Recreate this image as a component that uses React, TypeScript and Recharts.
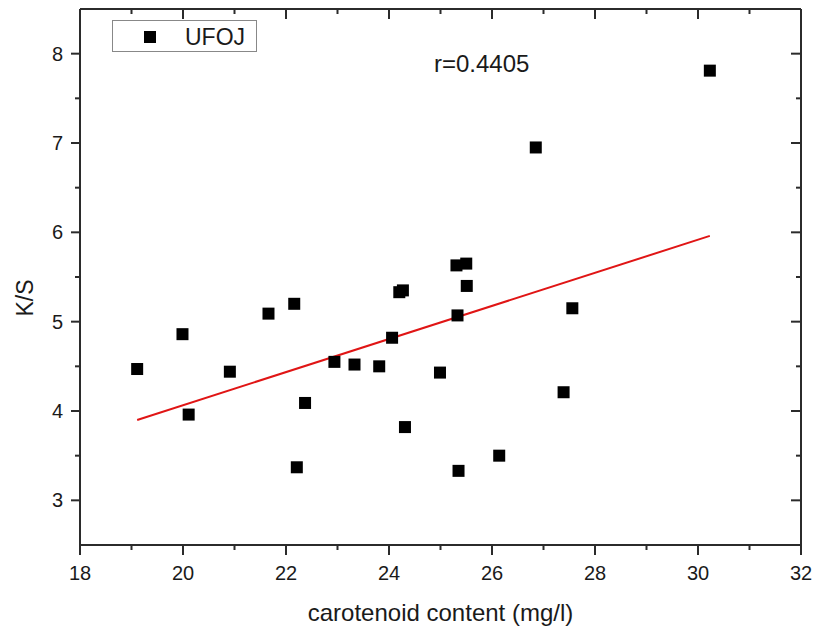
import React from 'react'
import {
  ScatterChart,
  Scatter,
  XAxis,
  YAxis,
  Legend,
  ReferenceDot,
} from 'recharts'

// ── Data ──────────────────────────────────────────────────────────────────────

const carotenoid = [
  19.11, 19.99, 20.11, 20.91, 21.66, 22.16, 22.21, 22.37, 22.94, 23.33, 23.81, 24.06, 24.2,
  24.27, 24.31, 24.99, 25.31, 25.33, 25.35, 25.5, 25.51, 26.14, 26.85, 27.39, 27.56, 30.23,
]
const ks = [
  4.47, 4.86, 3.96, 4.44, 5.09, 5.2, 3.37, 4.09, 4.55, 4.52, 4.5, 4.82, 5.33,
  5.35, 3.82, 4.43, 5.63, 5.07, 3.33, 5.65, 5.4, 3.5, 6.95, 4.21, 5.15, 7.81,
]

// linear fit end points as drawn
const fitX = [19.11, 30.23]
const fitY = [3.9, 5.96]

const xTicks = [18, 19, 20, 21, 22, 23, 24, 25, 26, 27, 28, 29, 30, 31, 32]
const yTicks = [3, 3.5, 4, 4.5, 5, 5.5, 6, 6.5, 7, 7.5, 8]

const seriesName = 'UFOJ'
const rLabel = 'r=0.4405'

// ── Style ─────────────────────────────────────────────────────────────────────

const AXIS = '#2b2b2b'
const TEXT = '#1a1a1a'
const RED = '#e01515'
const FONT = '"Liberation Sans", Arial, sans-serif'

const points = carotenoid.map((x, i) => ({ x, y: ks[i] }))
const fit = fitX.map((x, i) => ({ x, y: fitY[i] }))

// ── Ticks ─────────────────────────────────────────────────────────────────────

const BottomTick = ({ x, y, payload }: any) => {
  const major = payload.value % 2 === 0
  return (
    <g>
      <line x1={x} x2={x} y1={y} y2={y + (major ? 10 : 5)} stroke={AXIS} strokeWidth={2} />
      {major && (
        <text x={x} y={y + 35} textAnchor="middle" fontSize={20} fill={TEXT} fontFamily={FONT}>
          {payload.value}
        </text>
      )}
    </g>
  )
}

// top axis: y is its outer edge, plot starts 1px below
const TopTick = ({ x, y, payload }: any) => {
  const major = payload.value % 2 === 0
  return <line x1={x} x2={x} y1={y} y2={y + (major ? 10 : 5)} stroke={AXIS} strokeWidth={2} />
}

const LeftTick = ({ x, y, payload }: any) => {
  const major = Number.isInteger(payload.value)
  return (
    <g>
      <line x1={x} x2={x - (major ? 9 : 5)} y1={y} y2={y} stroke={AXIS} strokeWidth={2} />
      {major && (
        <text x={x - 17} y={y + 7} textAnchor="end" fontSize={20} fill={TEXT} fontFamily={FONT}>
          {payload.value}
        </text>
      )}
    </g>
  )
}

const RightTick = ({ x, y, payload }: any) => {
  const major = Number.isInteger(payload.value)
  return <line x1={x} x2={x - (major ? 10 : 5)} y1={y} y2={y} stroke={AXIS} strokeWidth={2} />
}

const SquareDot = ({ cx, cy }: any) => (
  <rect x={cx - 6} y={cy - 6} width={12} height={12} fill="#000" />
)

const LegendBox = () => (
  <div
    style={{
      width: 145,
      height: 32,
      boxSizing: 'border-box',
      border: '1px solid #888',
      background: '#fff',
      position: 'relative',
      fontFamily: FONT,
    }}
  >
    <div style={{ position: 'absolute', left: 31, top: 10, width: 12, height: 12, background: '#000' }} />
    <div style={{ position: 'absolute', left: 72, top: 1, fontSize: 23, lineHeight: '30px', color: TEXT }}>
      {seriesName}
    </div>
  </div>
)

// ── Chart ─────────────────────────────────────────────────────────────────────

export default function App() {
  return (
    <div style={{ position: 'absolute', left: 0, top: 0, width: 819, height: 630, background: '#fff' }}>
      <ScatterChart width={819} height={630} margin={{ top: 8, right: 17, left: 0, bottom: 0 }}>
        <XAxis
          dataKey="x"
          type="number"
          domain={[18, 32]}
          ticks={xTicks}
          interval={0}
          height={85}
          tickSize={0}
          tickMargin={0}
          tick={<BottomTick />}
          axisLine={{ stroke: AXIS, strokeWidth: 2 }}
          tickLine={false}
          allowDataOverflow
          label={{
            content: ({ viewBox }: any) => (
              <text
                x={viewBox.x + viewBox.width / 2}
                y={viewBox.y + 76}
                textAnchor="middle"
                fontSize={24}
                fill={TEXT}
                fontFamily={FONT}
              >
                carotenoid content (mg/l)
              </text>
            ),
          }}
        />
        <XAxis
          xAxisId="top"
          dataKey="x"
          orientation="top"
          type="number"
          domain={[18, 32]}
          ticks={xTicks}
          interval={0}
          height={1}
          tickSize={0}
          tickMargin={0}
          tick={<TopTick />}
          axisLine={{ stroke: AXIS, strokeWidth: 2 }}
          tickLine={false}
          allowDataOverflow
        />
        <YAxis
          dataKey="y"
          type="number"
          domain={[2.5, 8.5]}
          ticks={yTicks}
          interval={0}
          width={80}
          tickSize={0}
          tickMargin={0}
          tick={<LeftTick />}
          axisLine={{ stroke: AXIS, strokeWidth: 2 }}
          tickLine={false}
          allowDataOverflow
          label={{
            content: ({ viewBox }: any) => {
              const cx = viewBox.x + 25
              const cy = viewBox.y + viewBox.height / 2 + 21
              return (
                <text
                  x={cx}
                  y={cy}
                  transform={`rotate(-90 ${cx} ${cy})`}
                  textAnchor="middle"
                  dominantBaseline="central"
                  fontSize={23}
                  fill={TEXT}
                  fontFamily={FONT}
                >
                  K/S
                </text>
              )
            },
          }}
        />
        <YAxis
          yAxisId="right"
          dataKey="y"
          orientation="right"
          type="number"
          domain={[2.5, 8.5]}
          ticks={yTicks}
          interval={0}
          width={1}
          tickSize={0}
          tickMargin={0}
          tick={<RightTick />}
          axisLine={{ stroke: AXIS, strokeWidth: 2 }}
          tickLine={false}
          allowDataOverflow
        />
        <Legend
          layout="vertical"
          align="center"
          verticalAlign="middle"
          wrapperStyle={{ left: 112, top: 20, width: 145 }}
          content={() => <LegendBox />}
        />
        <Scatter
          name="fit"
          data={fit}
          xAxisId="top"
          yAxisId="right"
          line={{ stroke: RED, strokeWidth: 2 }}
          shape={() => <g />}
          legendType="none"
          isAnimationActive={false}
        />
        <Scatter name={seriesName} data={points} shape={<SquareDot />} isAnimationActive={false} />
        <ReferenceDot
          x={25.8}
          y={7.89}
          r={0}
          ifOverflow="visible"
          label={{
            content: ({ viewBox }: any) => (
              <text
                x={viewBox.x}
                y={viewBox.y + 9}
                textAnchor="middle"
                fontSize={24}
                fill={TEXT}
                fontFamily={FONT}
              >
                {rLabel}
              </text>
            ),
          }}
        />
      </ScatterChart>
    </div>
  )
}
